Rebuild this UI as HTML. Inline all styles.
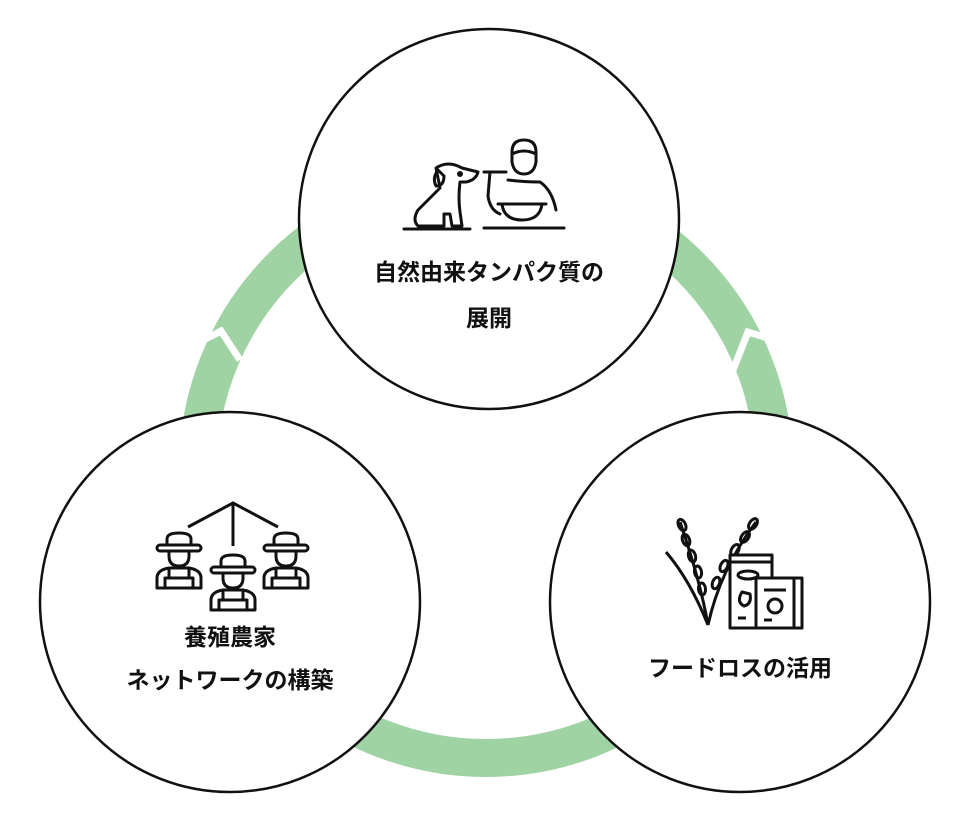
<!DOCTYPE html>
<html><head><meta charset="utf-8"><style>
html,body{margin:0;padding:0;background:#fff;}
svg{display:block}
text{font-family:"Liberation Sans","Noto Sans CJK JP",sans-serif;font-weight:bold;font-size:23px;fill:#111;text-anchor:middle}
</style></head><body>
<svg width="976" height="838" viewBox="0 0 976 838">
<circle cx="486" cy="470" r="288" fill="none" stroke="#9fd3a3" stroke-width="38"/>
<polyline points="180,352 221,331 240,360" fill="none" stroke="#fff" stroke-width="7"/>
<polyline points="733,370 748,332 790,345" fill="none" stroke="#fff" stroke-width="7"/>
<g fill="#fff" stroke="#111" stroke-width="2.5">
<circle cx="489" cy="219" r="190"/>
<circle cx="230" cy="602" r="190"/>
<circle cx="740" cy="602" r="190"/>
</g>
<!-- top icon -->
<g fill="none" stroke="#111" stroke-width="3" stroke-linejoin="round" stroke-linecap="round">
<path d="M436 168 Q448 160 462 168 L478 172 Q476 180 466 182 L460 182 Q458 198 460 212 L462 226 L452 226 L450 214 L444 214 L444 226 L418 226 Q412 220 418 210 Q430 198 440 188 Z"/>
<path d="M438 170 Q432 178 436 186 Q444 186 444 176 Z"/>
<circle cx="460" cy="174" r="1.5" fill="#111"/>
<line x1="404" y1="229" x2="470" y2="229"/>
<path d="M512 152 Q512 140 524 140 Q536 140 536 152 L536 162 Q534 174 524 174 Q514 174 512 162 Z"/>
<path d="M512 154 Q524 148 536 154"/>
<line x1="484" y1="172" x2="506" y2="172"/>
<path d="M490 172 L488 196 Q490 210 500 214"/>
<path d="M508 180 Q524 182 540 182 Q552 190 556 210"/>
<path d="M502 204 Q504 220 522 220 Q540 220 542 204 Z"/>
<line x1="498" y1="204" x2="546" y2="204"/>
<line x1="484" y1="228" x2="564" y2="228"/>
</g>
<text x="489" y="280">自然由来タンパク質の</text>
<text x="489" y="326">展開</text>
<!-- left icon -->
<defs>
<g id="f" fill="none" stroke="#111" stroke-width="3" stroke-linejoin="round">
<rect x="-22" y="-3" width="44" height="6" rx="3"/>
<path d="M-12 -3 V-9 Q-12 -15 0 -15 Q12 -15 12 -9 V-3"/>
<path d="M-10 3 V8 Q-10 18 0 18 Q10 18 10 8 V3"/>
<path d="M-22 40 V30 Q-22 22 -10 20 H10 Q22 22 22 30 V40 Z"/>
<path d="M-14 40 V30 H14 V40 M-10 20 V30 M10 20 V30"/>
</g>
</defs>
<polyline points="188,527 233,503 278,527" fill="none" stroke="#111" stroke-width="3"/>
<line x1="233" y1="503" x2="233" y2="546" stroke="#111" stroke-width="3"/>
<use href="#f" x="179" y="548"/>
<use href="#f" x="286" y="548"/>
<use href="#f" x="233" y="570"/>
<text x="230" y="645">養殖農家</text>
<text x="230" y="688">ネットワークの構築</text>
<!-- right icon -->
<g fill="none" stroke="#111" stroke-width="3" stroke-linejoin="round">
<path d="M666 552 Q690 580 708 625"/>
<path d="M708 625 Q700 580 680 522"/>
<path d="M708 625 Q720 570 756 522"/>
<g>
<ellipse cx="682" cy="525" rx="3.5" ry="6" transform="rotate(-25 682 525)"/>
<ellipse cx="686" cy="540" rx="3.5" ry="6" transform="rotate(-20 686 540)"/>
<ellipse cx="692" cy="556" rx="3.5" ry="6" transform="rotate(-15 692 556)"/>
<ellipse cx="698" cy="572" rx="3.5" ry="6" transform="rotate(-10 698 572)"/>
<ellipse cx="702" cy="589" rx="3.5" ry="6" transform="rotate(-5 702 589)"/>
<ellipse cx="753" cy="524" rx="3.5" ry="6" transform="rotate(35 753 524)"/>
<ellipse cx="745" cy="537" rx="3.5" ry="6" transform="rotate(35 745 537)"/>
<ellipse cx="735" cy="550" rx="3.5" ry="6" transform="rotate(30 735 550)"/>
<ellipse cx="724" cy="566" rx="3.5" ry="6" transform="rotate(25 724 566)"/>
<ellipse cx="716" cy="583" rx="3.5" ry="6" transform="rotate(20 716 583)"/>
</g>
<path d="M730 555 H772 V628 H730 Z" fill="#fff"/>
<line x1="730" y1="562" x2="772" y2="562"/>
<ellipse cx="748" cy="575" rx="10" ry="4"/>
<path d="M742 592 Q736 602 744 606 Q752 604 750 594 Z"/>
<line x1="738" y1="618" x2="746" y2="618"/>
<rect x="756" y="578" width="46" height="50" fill="#fff"/>
<line x1="794" y1="578" x2="794" y2="628"/>
<line x1="764" y1="590" x2="786" y2="590"/>
<circle cx="775" cy="606" r="7"/>
<line x1="764" y1="620" x2="772" y2="620"/>
</g>
<text x="740" y="676">フードロスの活用</text>
</svg>
</body></html>
